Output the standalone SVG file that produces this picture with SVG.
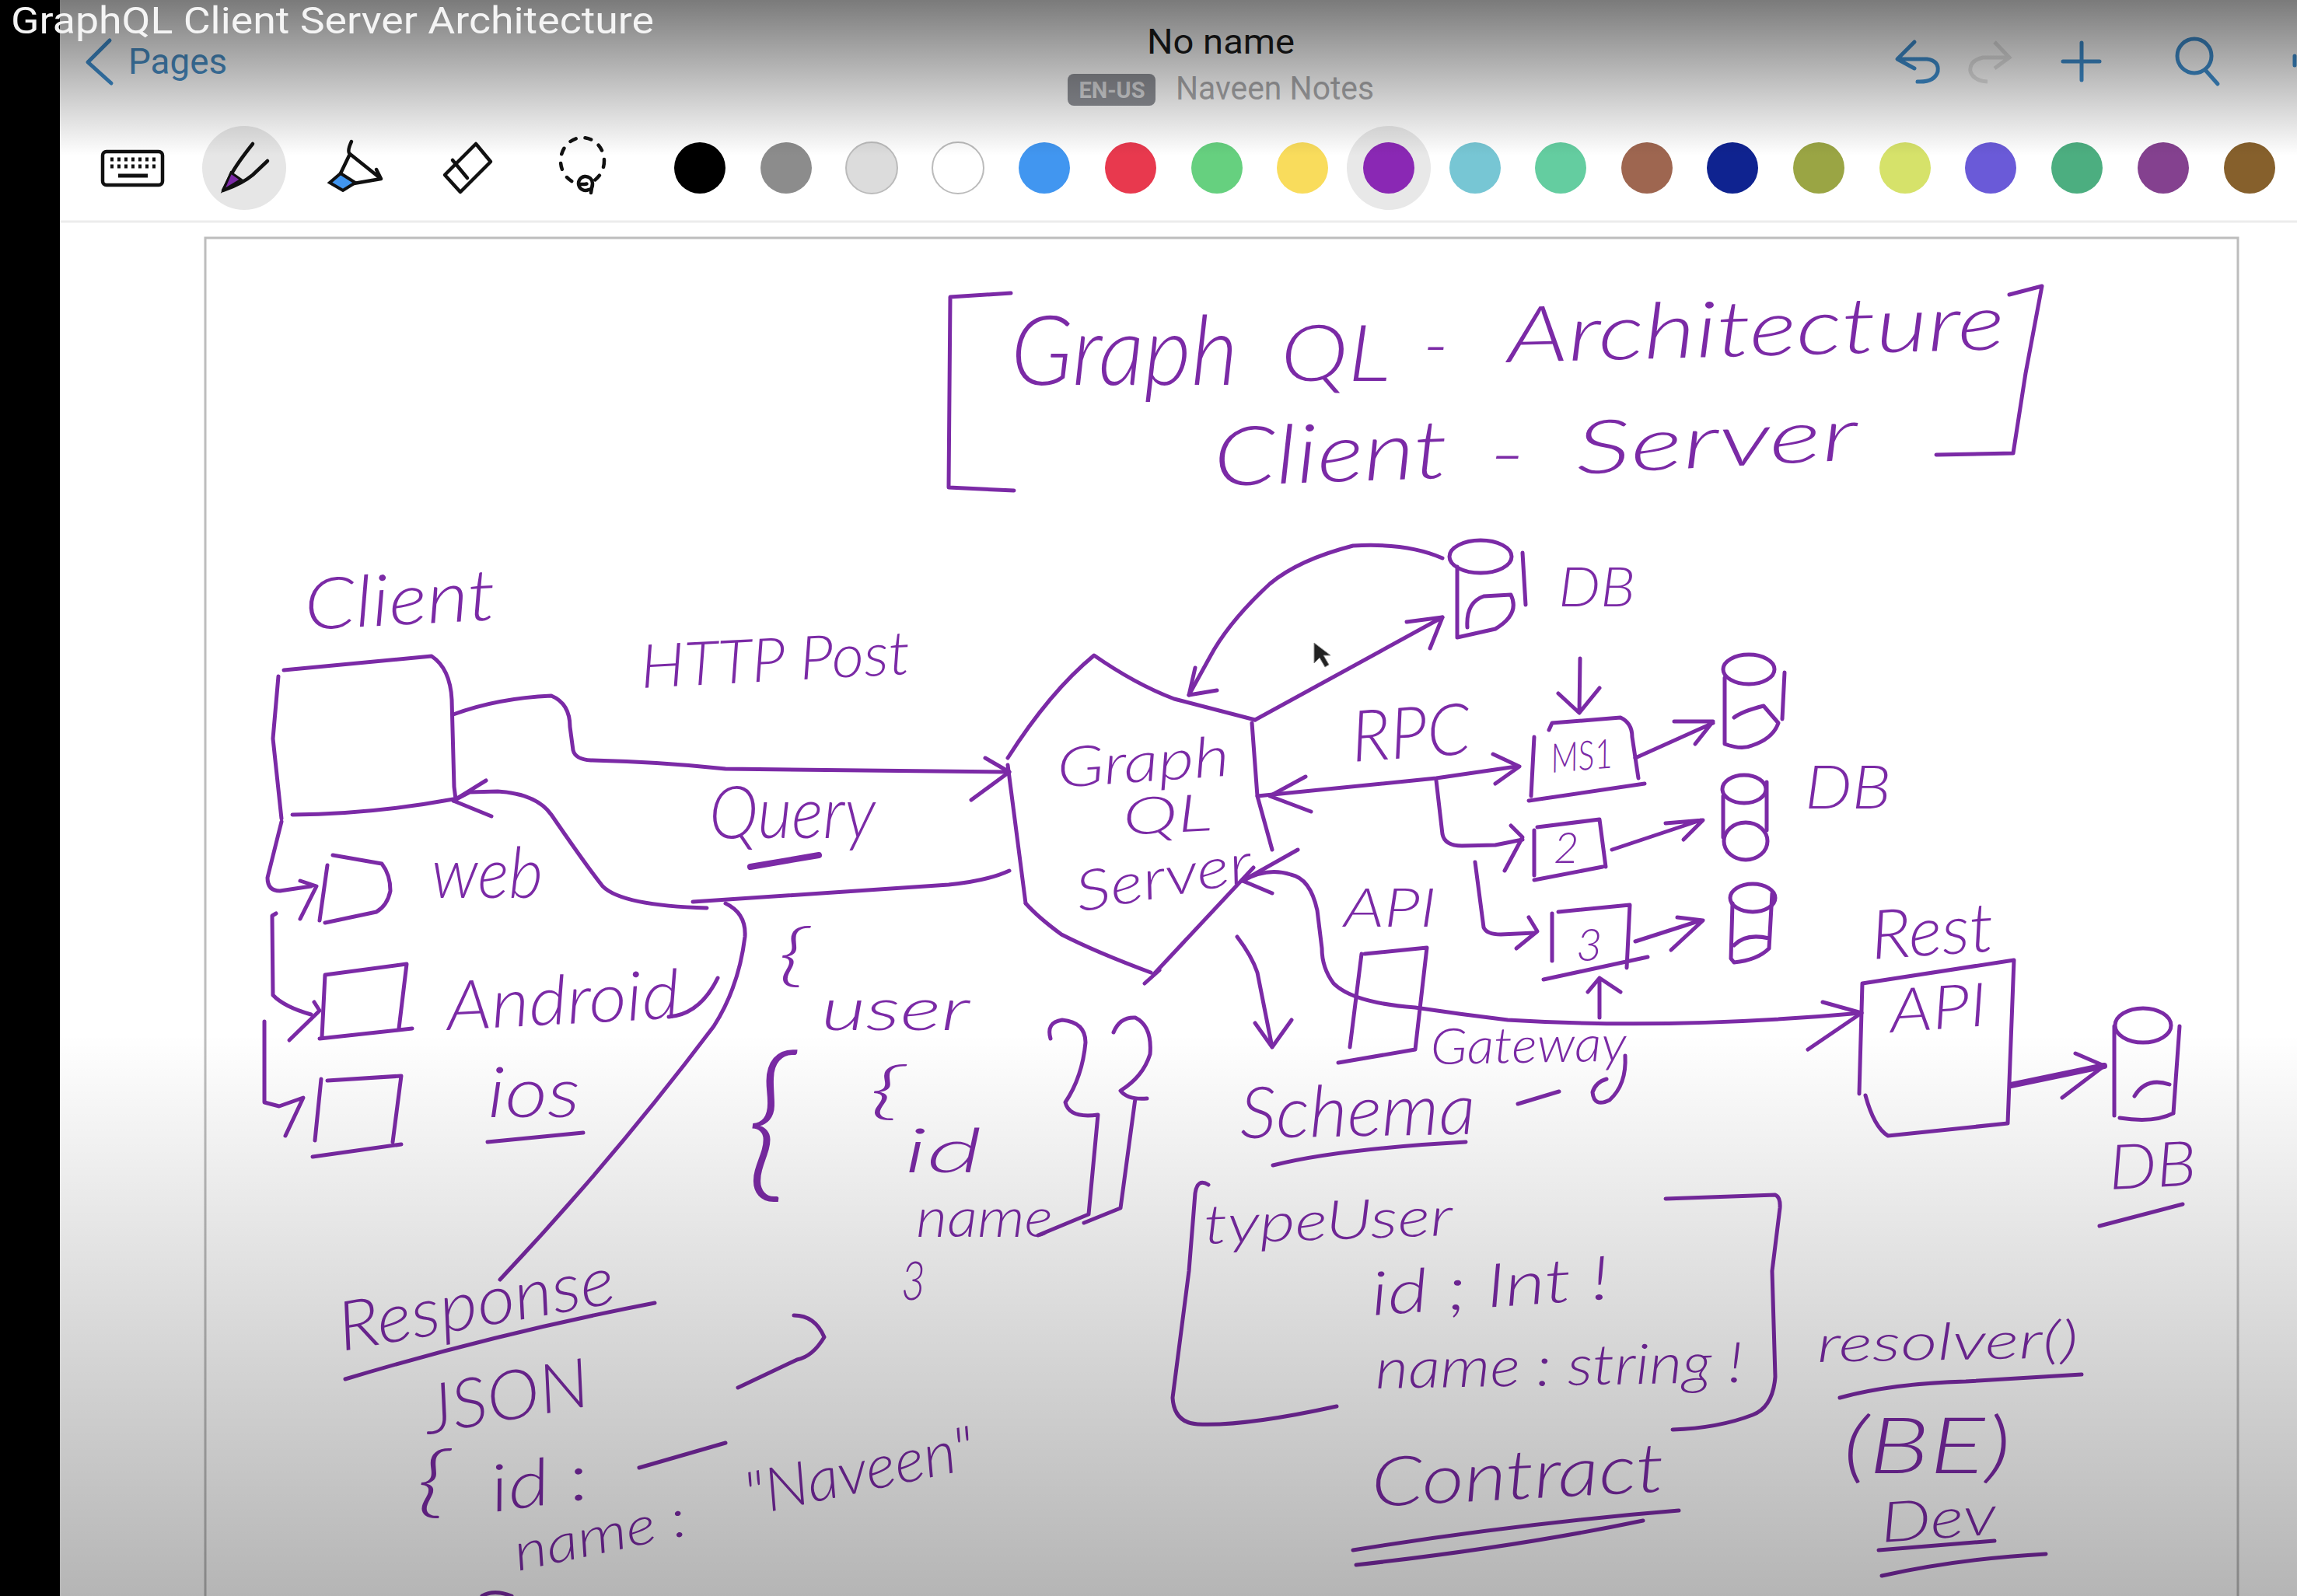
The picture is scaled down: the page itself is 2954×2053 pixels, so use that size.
<svg xmlns="http://www.w3.org/2000/svg" width="2954" height="2053" viewBox="0 0 2954 2053">
<style>
.h{font-family:"Lato","Open Sans",sans-serif;font-style:italic;font-weight:300;fill:#7b2aa6}
.s{fill:none;stroke:#7b2aa6;stroke-width:5;stroke-linecap:round;stroke-linejoin:round}
.t{stroke-width:8}
.ui{font-family:"Roboto","Liberation Sans",sans-serif}
.i{fill:none;stroke:#111;stroke-width:4.5;stroke-linecap:round;stroke-linejoin:round}
.b{fill:none;stroke:#3f8fd0;stroke-width:5;stroke-linecap:round;stroke-linejoin:round}
</style>
<defs>
<linearGradient id="topShade" x1="0" y1="0" x2="0" y2="1"><stop offset="0" stop-color="#000" stop-opacity=".52"/><stop offset="1" stop-color="#000" stop-opacity="0"/></linearGradient>
<linearGradient id="botShade" x1="0" y1="0" x2="0" y2="1"><stop offset="0" stop-color="#000" stop-opacity="0"/><stop offset="1" stop-color="#000" stop-opacity=".29"/></linearGradient>
</defs>
<rect width="2954" height="2053" fill="#fff"/>
<rect width="77" height="2053" fill="#000"/>
<g id="app-chrome">
<path d="M77 285H2954" stroke="#ececec" stroke-width="3"/>
<rect x="264" y="306" width="2614" height="1760" fill="#fff" stroke="#bdbdbd" stroke-width="3"/>
<path d="M141 52L113 80L143 107" class="b" stroke-width="6"/>
<text x="165" y="95" class="ui" font-size="46" fill="#4a90c8" textLength="127" lengthAdjust="spacingAndGlyphs">Pages</text>
<text x="1475" y="69" class="ui" font-size="44" fill="#1c1c1c" textLength="190" lengthAdjust="spacingAndGlyphs">No name</text>
<rect x="1373" y="95" width="113" height="41" rx="8" fill="#8e9096"/>
<text x="1430" y="126" class="ui" font-size="29" font-weight="700" fill="#d6d7d9" text-anchor="middle">EN-US</text>
<text x="1512" y="128" class="ui" font-size="42" fill="#a9a9ab" textLength="255" lengthAdjust="spacingAndGlyphs">Naveen Notes</text>
<path d="M2462 54L2440 76L2462 88M2442 76H2478Q2494 78 2492 92Q2488 106 2466 105" class="b"/>
<path d="M2565 54L2584 74L2565 88M2582 74H2550Q2532 78 2534 92Q2538 104 2556 105" fill="none" stroke="#e4e4e4" stroke-width="5"/>
<path d="M2677 55V103M2653 79H2700" class="b"/>
<circle cx="2822" cy="72" r="22" class="b"/><path d="M2836 90L2852 108" class="b"/>
<path d="M2951 72V84" class="b"/>
</g>
<g id="toolbar">
<ellipse cx="314" cy="216" rx="54" ry="54" fill="#e6e6e6"/>
<ellipse cx="1786" cy="216" rx="54" ry="54" fill="#e8e8e8"/>
<rect x="132" y="195" width="77" height="43" rx="5" class="i"/>
<path d="M142 205H200M142 214H200" stroke="#111" stroke-width="5" stroke-dasharray="4 5" fill="none"/>
<path d="M152 226H190" stroke="#111" stroke-width="5"/>
<path d="M325 185Q305 210 297 225L287 245Q312 236 325 225L344 207" class="i"/>
<path d="M297 222L310 231L287 245Z" fill="#7b2aa6" stroke="#111" stroke-width="3"/>
<path d="M452 182Q446 195 450 198L438 223M450 198L490 230L455 236M484 218L490 230" class="i"/>
<path d="M438 223L457 235L441 245L424 235Z" fill="#4196f0" stroke="#111" stroke-width="4"/>
<path d="M612 185L631 208L592 247L572 225ZM582 206L601 229" class="i"/>
<ellipse cx="749" cy="207" rx="28" ry="30" class="i" stroke-dasharray="8 12" stroke-width="4"/>
<path d="M762 236a9 9 0 1 0-5 8Q762 244 762 236L760 248" class="i"/>
<circle cx="900" cy="216" r="33" fill="#000"/>
<circle cx="1011" cy="216" r="33" fill="#8c8c8c"/>
<circle cx="1121" cy="216" r="33" fill="#dcdcdc" stroke="#bbb" stroke-width="2"/>
<circle cx="1232" cy="216" r="33" fill="#fff" stroke="#bbb" stroke-width="2"/>
<circle cx="1343" cy="216" r="33" fill="#4196f0"/>
<circle cx="1454" cy="216" r="33" fill="#e8394e"/>
<circle cx="1565" cy="216" r="33" fill="#66d07f"/>
<circle cx="1675" cy="216" r="33" fill="#f9dc5c"/>
<circle cx="1786" cy="216" r="33" fill="#8a28b4"/>
<circle cx="1897" cy="216" r="33" fill="#77c6d4"/>
<circle cx="2007" cy="216" r="33" fill="#64cda0"/>
<circle cx="2118" cy="216" r="33" fill="#9e6650"/>
<circle cx="2228" cy="216" r="33" fill="#0f2390"/>
<circle cx="2339" cy="216" r="33" fill="#9aa544"/>
<circle cx="2450" cy="216" r="33" fill="#d6e26a"/>
<circle cx="2560" cy="216" r="33" fill="#6a5ad8"/>
<circle cx="2671" cy="216" r="33" fill="#4cae80"/>
<circle cx="2782" cy="216" r="33" fill="#84418f"/>
<circle cx="2893" cy="216" r="33" fill="#86602c"/>
</g>
<g id="title">
<path class="s" d="M1300 377L1222 382L1220 627L1304 631"/>
<path class="s" d="M2584 379L2626 368L2605 480L2589 583L2490 585"/>
<text class="h" x="1300" y="495" font-size="125" textLength="292" lengthAdjust="spacingAndGlyphs">Graph</text>
<text class="h" x="1647" y="490" font-size="100" textLength="141" lengthAdjust="spacingAndGlyphs">QL</text>
<text class="h" x="1830" y="475" font-size="90" textLength="33" lengthAdjust="spacingAndGlyphs">-</text>
<text class="h" x="1939" y="466" font-size="100" textLength="640" lengthAdjust="spacingAndGlyphs" transform="rotate(-1.5 1939 466)">Architecture</text>
<text class="h" x="1562" y="625" font-size="105" textLength="301" lengthAdjust="spacingAndGlyphs" transform="rotate(-2 1562 625)">Client</text>
<text class="h" x="1915" y="615" font-size="90" textLength="47" lengthAdjust="spacingAndGlyphs">-</text>
<text class="h" x="2028" y="610" font-size="95" textLength="363" lengthAdjust="spacingAndGlyphs" transform="rotate(-3 2028 610)">Server</text>
</g>
<g id="connectors">
<path class="s" d="M583 919Q640 898 709 895Q733 905 733 935L737 965Q740 977 760 978Q850 980 933 989L1298 993"/>
<path class="s" d="M1267 975L1298 993L1249 1029"/>
<path class="s" d="M1298 1120Q1270 1133 1220 1138L891 1160"/>
<path class="s" d="M909 1168Q800 1165 775 1140Q755 1115 709 1048Q690 1021 640 1018L604 1019L583 1030"/>
<path class="s" d="M625 1004L583 1030L632 1050"/>
<path class="s" d="M933 1162Q960 1175 958 1205Q950 1270 918 1320Q790 1490 643 1646"/>
<path class="s" d="M362 1057L344 1129Q344 1146 360 1146L400 1140"/>
<path class="s" d="M386 1133L407 1140L386 1182"/>
<path class="s" d="M355 1175L350 1178L351 1280Q365 1295 400 1305"/>
<path class="s" d="M404 1289L411 1300L372 1338"/>
<path class="s" d="M340 1314L340 1418L359 1423L390 1412L367 1461"/>
<path class="s" d="M1855 718Q1810 698 1740 702Q1670 720 1633 751Q1580 800 1556 845L1529 894"/>
<path class="s" d="M1537 859L1529 894L1565 888"/>
<path class="s" d="M1614 926L1855 794"/>
<path class="s" d="M1809 800L1855 794L1839 834"/>
<path class="s" d="M1617 1024L1847 1001L1950 986"/>
<path class="s" d="M1679 999L1633 1024L1686 1044"/>
<path class="s" d="M1920 970L1954 986L1923 1008"/>
<path class="s" d="M2032 847L2031 917M2004 892L2031 917L2057 885"/>
<path class="s" d="M2103 975L2203 930M2153 928L2203 928L2180 957"/>
<path class="s" d="M1847 1004L1855 1073Q1858 1088 1880 1088L1923 1087L1958 1080"/>
<path class="s" d="M1943 1062L1958 1077L1935 1120"/>
<path class="s" d="M2073 1093L2187 1055M2142 1059L2190 1055L2165 1080"/>
<path class="s" d="M1897 1109L1908 1193Q1912 1202 1930 1202L1973 1200"/>
<path class="s" d="M1966 1180L1977 1198L1950 1220"/>
<path class="s" d="M2103 1211L2187 1184M2157 1180L2190 1184L2149 1222"/>
<path class="s" d="M2057 1309L2057 1258M2042 1276L2057 1258L2084 1276"/>
<path class="s" d="M2394 1303Q2150 1325 1939 1312Q1880 1305 1820 1296Q1740 1290 1715 1265Q1700 1245 1700 1220L1694 1171Q1685 1130 1660 1125Q1630 1115 1598 1133"/>
<path class="s" d="M1669 1093L1598 1133L1636 1149"/>
<path class="s" d="M2344 1289L2394 1303L2325 1350"/>
<path class="s" d="M1591 1205Q1610 1230 1617 1251L1636 1347M1614 1316L1636 1347L1661 1312"/>
<path class="s t" d="M2586 1396L2706 1371"/>
<path class="s" d="M2669 1355L2706 1371L2652 1412"/>
</g>
<g id="client">
<path class="s" d="M365 862L555 844Q579 860 581 900L584 1012L586 1028"/>
<path class="s" d="M358 870L351 950L362 1053"/>
<path class="s" d="M376 1048Q480 1047 583 1028"/>
<text class="h" x="393" y="810" font-size="92" textLength="246" lengthAdjust="spacingAndGlyphs" transform="rotate(-3 393 810)">Client</text>
<text class="h" x="825" y="885" font-size="78" textLength="347" lengthAdjust="spacingAndGlyphs" transform="rotate(-3 825 885)">HTTP Post</text>
<text class="h" x="912" y="1078" font-size="92" textLength="214" lengthAdjust="spacingAndGlyphs">Query</text>
<path class="s t" d="M965 1115L1053 1100"/>
</g>
<g id="web">
<path class="s" d="M421 1113L411 1184M428 1100L491 1111Q502 1125 502 1146Q498 1165 484 1173L418 1187"/>
<text class="h" x="555" y="1155" font-size="90" textLength="143" lengthAdjust="spacingAndGlyphs">web</text>
</g>
<g id="android">
<path class="s" d="M414 1334L418 1254L523 1240L513 1323M530 1323L411 1336"/>
<text class="h" x="576" y="1325" font-size="88" textLength="300" lengthAdjust="spacingAndGlyphs" transform="rotate(-3 576 1325)">Android</text>
<path class="s" d="M860 1308Q900 1305 923 1258"/>
</g>
<g id="ios">
<path class="s" d="M413 1388L405 1467M421 1390L516 1384L505 1469M516 1472L402 1488"/>
<text class="h" x="627" y="1437" font-size="90" textLength="119" lengthAdjust="spacingAndGlyphs">ios</text>
<path class="s" d="M627 1469L750 1457"/>
</g>
<g id="query-snippet">
<text class="h" x="1000" y="1258" font-size="88" textLength="40" lengthAdjust="spacingAndGlyphs">{</text>
<text class="h" x="1056" y="1325" font-size="76" textLength="191" lengthAdjust="spacingAndGlyphs">user</text>
<text class="h" x="958" y="1517" font-size="220" textLength="63" lengthAdjust="spacingAndGlyphs">{</text>
<text class="h" x="1117" y="1430" font-size="80" textLength="46" lengthAdjust="spacingAndGlyphs">{</text>
<text class="h" x="1163" y="1508" font-size="78" textLength="100" lengthAdjust="spacingAndGlyphs">id</text>
<text class="h" x="1178" y="1591" font-size="72" textLength="176" lengthAdjust="spacingAndGlyphs">name</text>
<text class="h" x="1159" y="1672" font-size="70" textLength="31" lengthAdjust="spacingAndGlyphs">3</text>
<path class="s" d="M1351 1336Q1345 1315 1366 1312Q1396 1315 1396 1341Q1392 1385 1370 1418Q1375 1439 1412 1434M1412 1434L1400 1562L1335 1589"/>
<path class="s" d="M1432 1328Q1440 1308 1460 1309Q1482 1320 1479 1356Q1470 1385 1441 1403Q1450 1415 1475 1413M1460 1413L1441 1554L1394 1573"/>
</g>
<g id="response">
<text class="h" x="440" y="1738" font-size="88" textLength="360" lengthAdjust="spacingAndGlyphs" transform="rotate(-10 440 1738)">Response</text>
<path class="s" d="M444 1774Q640 1715 842 1676"/>
<text class="h" x="551" y="1845" font-size="88" textLength="214" lengthAdjust="spacingAndGlyphs" transform="rotate(-10 551 1845)">JSON</text>
<path class="s" d="M1021 1692Q1048 1692 1060 1720Q1045 1745 1025 1749L949 1785"/>
<text class="h" x="535" y="1940" font-size="100" textLength="43" lengthAdjust="spacingAndGlyphs">{</text>
<text class="h" x="635" y="1945" font-size="84" textLength="126" lengthAdjust="spacingAndGlyphs" transform="rotate(-8 635 1945)">id :</text>
<path class="s" d="M822 1888L933 1856"/>
<text class="h" x="666" y="2021" font-size="68" textLength="225" lengthAdjust="spacingAndGlyphs" transform="rotate(-12 666 2021)">name :</text>
<text class="h" x="964" y="1950" font-size="78" textLength="300" lengthAdjust="spacingAndGlyphs" transform="rotate(-12 964 1950)">"Naveen"</text>
<path class="s" d="M620 2053Q635 2044 658 2053"/>
</g>
<g id="graphql-server">
<path class="s" d="M1296 975Q1350 890 1407 843Q1460 880 1510 899L1614 926"/>
<path class="s" d="M1610 930L1617 1024L1636 1093"/>
<path class="s" d="M1612 1116L1483 1254M1472 1265L1491 1248"/>
<path class="s" d="M1480 1251Q1410 1225 1365 1202Q1335 1180 1319 1162"/>
<path class="s" d="M1296 984L1319 1162"/>
<text class="h" x="1361" y="1013" font-size="72" textLength="222" lengthAdjust="spacingAndGlyphs" transform="rotate(-4 1361 1013)">Graph</text>
<text class="h" x="1445" y="1074" font-size="66" textLength="115" lengthAdjust="spacingAndGlyphs" transform="rotate(-3 1445 1074)">QL</text>
<text class="h" x="1388" y="1173" font-size="72" textLength="229" lengthAdjust="spacingAndGlyphs" transform="rotate(-10 1388 1173)">Server</text>
<path d="M1690 827V853L1697 846L1704 858L1709 855L1702 843H1711Z" fill="#222" stroke="#888" stroke-width="1"/>
</g>
<g id="db-top">
<ellipse class="s" cx="1904" cy="716" rx="40" ry="21"/>
<path class="s" d="M1874 729L1874 820L1923 809Q1955 790 1943 765L1908 767Q1885 775 1887 807M1958 711L1962 778"/>
<text class="h" x="2004" y="780" font-size="72" textLength="99" lengthAdjust="spacingAndGlyphs">DB</text>
</g>
<g id="rpc-label"><text class="h" x="1740" y="980" font-size="92" textLength="153" lengthAdjust="spacingAndGlyphs" transform="rotate(-4 1740 980)">RPC</text></g>
<g id="ms1">
<path class="s" d="M1973 948L1969 1024M1992 939L1996 930L2084 923Q2099 930 2099 948L2107 1001M1966 1030L2115 1008"/>
<text class="h" x="1996" y="994" font-size="52" textLength="80" lengthAdjust="spacingAndGlyphs" transform="rotate(-5 1996 994)">MS1</text>
</g>
<g id="ms2">
<path class="s" d="M1973 1068L1973 1126M1977 1064L2057 1054L2065 1115M1973 1132L2061 1115"/>
<text class="h" x="1998" y="1110" font-size="56">2</text>
</g>
<g id="ms3">
<path class="s" d="M1996 1175L1996 1236M2004 1173L2096 1164L2092 1245M1985 1260L2119 1231"/>
<text class="h" x="2027" y="1236" font-size="58">3</text>
</g>
<g id="db-ms1">
<ellipse class="s" cx="2249" cy="861" rx="33" ry="19"/>
<path class="s" d="M2218 872L2218 957Q2240 965 2253 959Q2280 950 2287 930L2268 908Q2240 915 2230 923M2295 865L2292 925"/>
</g>
<g id="db-ms2">
<ellipse class="s" cx="2243" cy="1015" rx="28" ry="18"/>
<ellipse class="s" cx="2245" cy="1082" rx="28" ry="24"/>
<path class="s" d="M2216 1024L2216 1077M2272 1006L2272 1068"/>
<text class="h" x="2321" y="1040" font-size="76" textLength="111" lengthAdjust="spacingAndGlyphs">DB</text>
</g>
<g id="db-ms3">
<ellipse class="s" cx="2254" cy="1155" rx="29" ry="18"/>
<path class="s" d="M2228 1162L2226 1233L2230 1238Q2260 1235 2275 1220L2279 1149M2275 1207Q2245 1200 2230 1216"/>
</g>
<g id="api-gateway">
<text class="h" x="1728" y="1192" font-size="70" textLength="119" lengthAdjust="spacingAndGlyphs">API</text>
<path class="s" d="M1751 1227L1736 1347M1755 1227L1835 1219L1820 1350L1721 1367"/>
<text class="h" x="1840" y="1369" font-size="64" textLength="252" lengthAdjust="spacingAndGlyphs" transform="rotate(-1 1840 1369)">Gateway</text>
<path class="s" d="M2090 1358Q2092 1395 2070 1415Q2050 1425 2048 1405Q2052 1392 2066 1388"/>
</g>
<g id="rest-api">
<text class="h" x="2408" y="1234" font-size="88" textLength="158" lengthAdjust="spacingAndGlyphs" transform="rotate(-4 2408 1234)">Rest</text>
<path class="s" d="M2395 1265L2391 1407M2395 1265L2590 1235L2582 1445M2399 1409Q2410 1450 2428 1461L2582 1445"/>
<text class="h" x="2432" y="1328" font-size="78" textLength="125" lengthAdjust="spacingAndGlyphs" transform="rotate(-4 2432 1328)">API</text>
</g>
<g id="db-rest">
<ellipse class="s" cx="2756" cy="1319" rx="36" ry="22"/>
<path class="s" d="M2719 1320L2719 1435M2803 1320L2795 1432M2726 1438Q2770 1445 2795 1432M2745 1410Q2760 1385 2790 1395"/>
<text class="h" x="2713" y="1530" font-size="80" textLength="113" lengthAdjust="spacingAndGlyphs" transform="rotate(-3 2713 1530)">DB</text>
<path class="s" d="M2700 1577L2807 1549"/>
</g>
<g id="schema">
<text class="h" x="1595" y="1464" font-size="92" textLength="303" lengthAdjust="spacingAndGlyphs" transform="rotate(-1 1595 1464)">Schema</text>
<path class="s" d="M1637 1499Q1720 1478 1885 1469"/>
<path class="s" d="M1952 1420L2005 1404"/>
<path class="s" d="M1554 1524Q1540 1515 1537 1535L1529 1635L1508 1798Q1510 1830 1540 1832Q1600 1835 1719 1809"/>
<path class="s" d="M2142 1542L2283 1537Q2290 1540 2289 1554L2279 1635L2283 1771Q2280 1810 2254 1820Q2210 1837 2151 1839"/>
<text class="h" x="1549" y="1600" font-size="70" textLength="320" lengthAdjust="spacingAndGlyphs" transform="rotate(-2 1549 1600)">typeUser</text>
<text class="h" x="1765" y="1692" font-size="78" textLength="307" lengthAdjust="spacingAndGlyphs" transform="rotate(-4 1765 1692)">id ; Int !</text>
<text class="h" x="1769" y="1786" font-size="72" textLength="473" lengthAdjust="spacingAndGlyphs" transform="rotate(-1 1769 1786)">name : string !</text>
<text class="h" x="1765" y="1938" font-size="88" textLength="377" lengthAdjust="spacingAndGlyphs" transform="rotate(-3 1765 1938)">Contract</text>
<path class="s" d="M1740 1994Q1950 1960 2159 1943"/>
<path class="s" d="M1744 2013Q1950 1990 2113 1956"/>
</g>
<g id="resolver">
<text class="h" x="2337" y="1752" font-size="66" textLength="336" lengthAdjust="spacingAndGlyphs" transform="rotate(-1 2337 1752)">resolver()</text>
<path class="s" d="M2366 1798Q2430 1780 2528 1777L2677 1768"/>
<text class="h" x="2370" y="1895" font-size="100" textLength="216" lengthAdjust="spacingAndGlyphs">(BE)</text>
<text class="h" x="2420" y="1984" font-size="72" textLength="149" lengthAdjust="spacingAndGlyphs" transform="rotate(-4 2420 1984)">Dev</text>
<path class="s" d="M2416 1994L2565 1982"/>
<path class="s" d="M2420 2027Q2520 2005 2631 1999"/>
</g>
<rect width="2954" height="200" fill="url(#topShade)"/>
<rect y="1330" width="2954" height="723" fill="url(#botShade)"/>
<rect width="77" height="2053" fill="#000"/>
<text x="14" y="43" class="ui" font-size="49" fill="#f4f4f4" textLength="827" lengthAdjust="spacingAndGlyphs">GraphQL Client Server Architecture</text>
</svg>
